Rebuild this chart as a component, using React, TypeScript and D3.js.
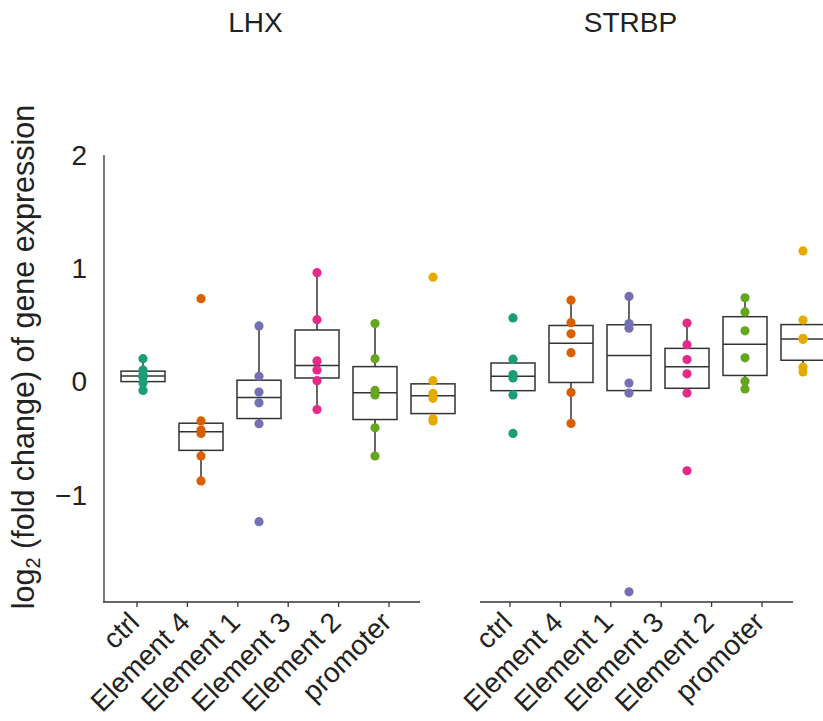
import React from 'react'
import * as d3 from 'd3'

const categories = ['ctrl', 'Element 4', 'Element 1', 'Element 3', 'Element 2', 'promoter']
const genes = ['LHX', 'STRBP']
const yTicks = [2, 1, 0, -1]

// one array of replicate values per category
const lhxValues = [
  [0.2, 0.1, 0.06, 0.035, -0.015, -0.08],
  [0.73, -0.35, -0.43, -0.46, -0.66, -0.88],
  [0.49, 0.045, -0.095, -0.19, -0.375, -1.24],
  [0.96, 0.545, 0.18, 0.1, 0.006, -0.25],
  [0.51, 0.2, -0.08, -0.12, -0.41, -0.66],
  [0.92, 0.006, -0.107, -0.15, -0.33, -0.35],
]
const strbpValues = [
  [0.56, 0.196, 0.06, 0.03, -0.12, -0.46],
  [0.717, 0.518, 0.42, 0.253, -0.098, -0.372],
  [0.75, 0.51, 0.47, -0.015, -0.104, -1.86],
  [0.515, 0.324, 0.193, 0.066, -0.104, -0.79],
  [0.738, 0.613, 0.446, 0.208, 0.0, -0.068],
  [1.152, 0.542, 0.38, 0.37, 0.125, 0.083],
]

const width = 823
const height = 721
const font = 'Liberation Sans, Arial, sans-serif'
const colors = d3.scaleOrdinal<string, string>().domain(categories).range(d3.schemeDark2)

const y = d3.scaleLinear().domain([-1.95, 2]).range([602, 155])

const panels = [
  { gene: genes[0], values: lhxValues, data: [143, 433], ticks: [137, 389], axis: [103, 420], yAxis: true },
  { gene: genes[1], values: strbpValues, data: [513, 803], ticks: [510, 762], axis: [480, 793], yAxis: false },
]

const boxStats = (vals: number[]) => {
  const s = [...vals].sort(d3.ascending)
  const q1 = d3.quantile(s, 0.25)!
  const med = d3.quantile(s, 0.5)!
  const q3 = d3.quantile(s, 0.75)!
  const iqr = q3 - q1
  const lo = d3.min(s.filter(v => v >= q1 - 1.5 * iqr))!
  const hi = d3.max(s.filter(v => v <= q3 + 1.5 * iqr))!
  return { q1, med, q3, lo, hi }
}

const Panel = ({ p }) => {
  const x = d3.scalePoint<string>().domain(categories).range(p.data)
  const xt = d3.scalePoint<string>().domain(categories).range(p.ticks)
  const boxW = 44
  return (
    <g>
      <text
        x={(p.axis[0] + p.axis[1]) / 2 - 6}
        y={32}
        textAnchor="middle"
        fontSize={28}
        fontFamily={font}
        fill="#222"
      >
        {p.gene}
      </text>
      {p.values.map((vals, i) => {
        const c = categories[i]
        const cx = x(c)
        const b = boxStats(vals)
        return (
          <g key={c}>
            <line x1={cx} x2={cx} y1={y(b.q3)} y2={y(b.hi)} stroke="#333" strokeWidth={1.5} />
            <line x1={cx} x2={cx} y1={y(b.q1)} y2={y(b.lo)} stroke="#333" strokeWidth={1.5} />
            <rect
              x={cx - boxW / 2}
              y={y(b.q3)}
              width={boxW}
              height={y(b.q1) - y(b.q3)}
              fill="none"
              stroke="#333"
              strokeWidth={1.5}
            />
            <line x1={cx - boxW / 2} x2={cx + boxW / 2} y1={y(b.med)} y2={y(b.med)} stroke="#333" strokeWidth={1.5} />
            {vals.map((v, j) => (
              <circle key={j} cx={cx} cy={y(v)} r={4.6} fill={colors(c)} />
            ))}
          </g>
        )
      })}
      <line x1={p.axis[0]} x2={p.axis[1]} y1={602} y2={602} stroke="#333" strokeWidth={1.3} />
      {categories.map(c => (
        <g key={c}>
          <line x1={xt(c)} x2={xt(c)} y1={602} y2={607} stroke="#333" strokeWidth={1.3} />
          <text
            transform={`translate(${xt(c) + 4},${624}) rotate(-45)`}
            textAnchor="end"
            fontSize={28}
            fontFamily={font}
            fill="#222"
          >
            {c}
          </text>
        </g>
      ))}
      {p.yAxis && (
        <g>
          <line x1={p.axis[0] + 1} x2={p.axis[0] + 1} y1={y(2)} y2={602} stroke="#333" strokeWidth={1.3} />
          {yTicks.map(t => (
            <text
              key={t}
              x={87}
              y={y(t)}
              dy="0.36em"
              textAnchor="end"
              fontSize={28}
              fontFamily={font}
              fill="#222"
            >
              {d3.format('')(t).replace('-', '\u2212')}
            </text>
          ))}
        </g>
      )}
    </g>
  )
}

const App = () => (
  <svg width={width} height={height} style={{ position: 'absolute', left: 0, top: 0, background: '#fff' }}>
    <text
      transform={`translate(34,${357}) rotate(-90)`}
      textAnchor="middle"
      fontSize={30.5}
      fontFamily={font}
      fill="#222"
    >
      log<tspan fontSize={20} dy={6}>2</tspan>
      <tspan dy={-6}> (fold change) of gene expression</tspan>
    </text>
    {panels.map(p => (
      <Panel key={p.gene} p={p} />
    ))}
  </svg>
)

export default App
